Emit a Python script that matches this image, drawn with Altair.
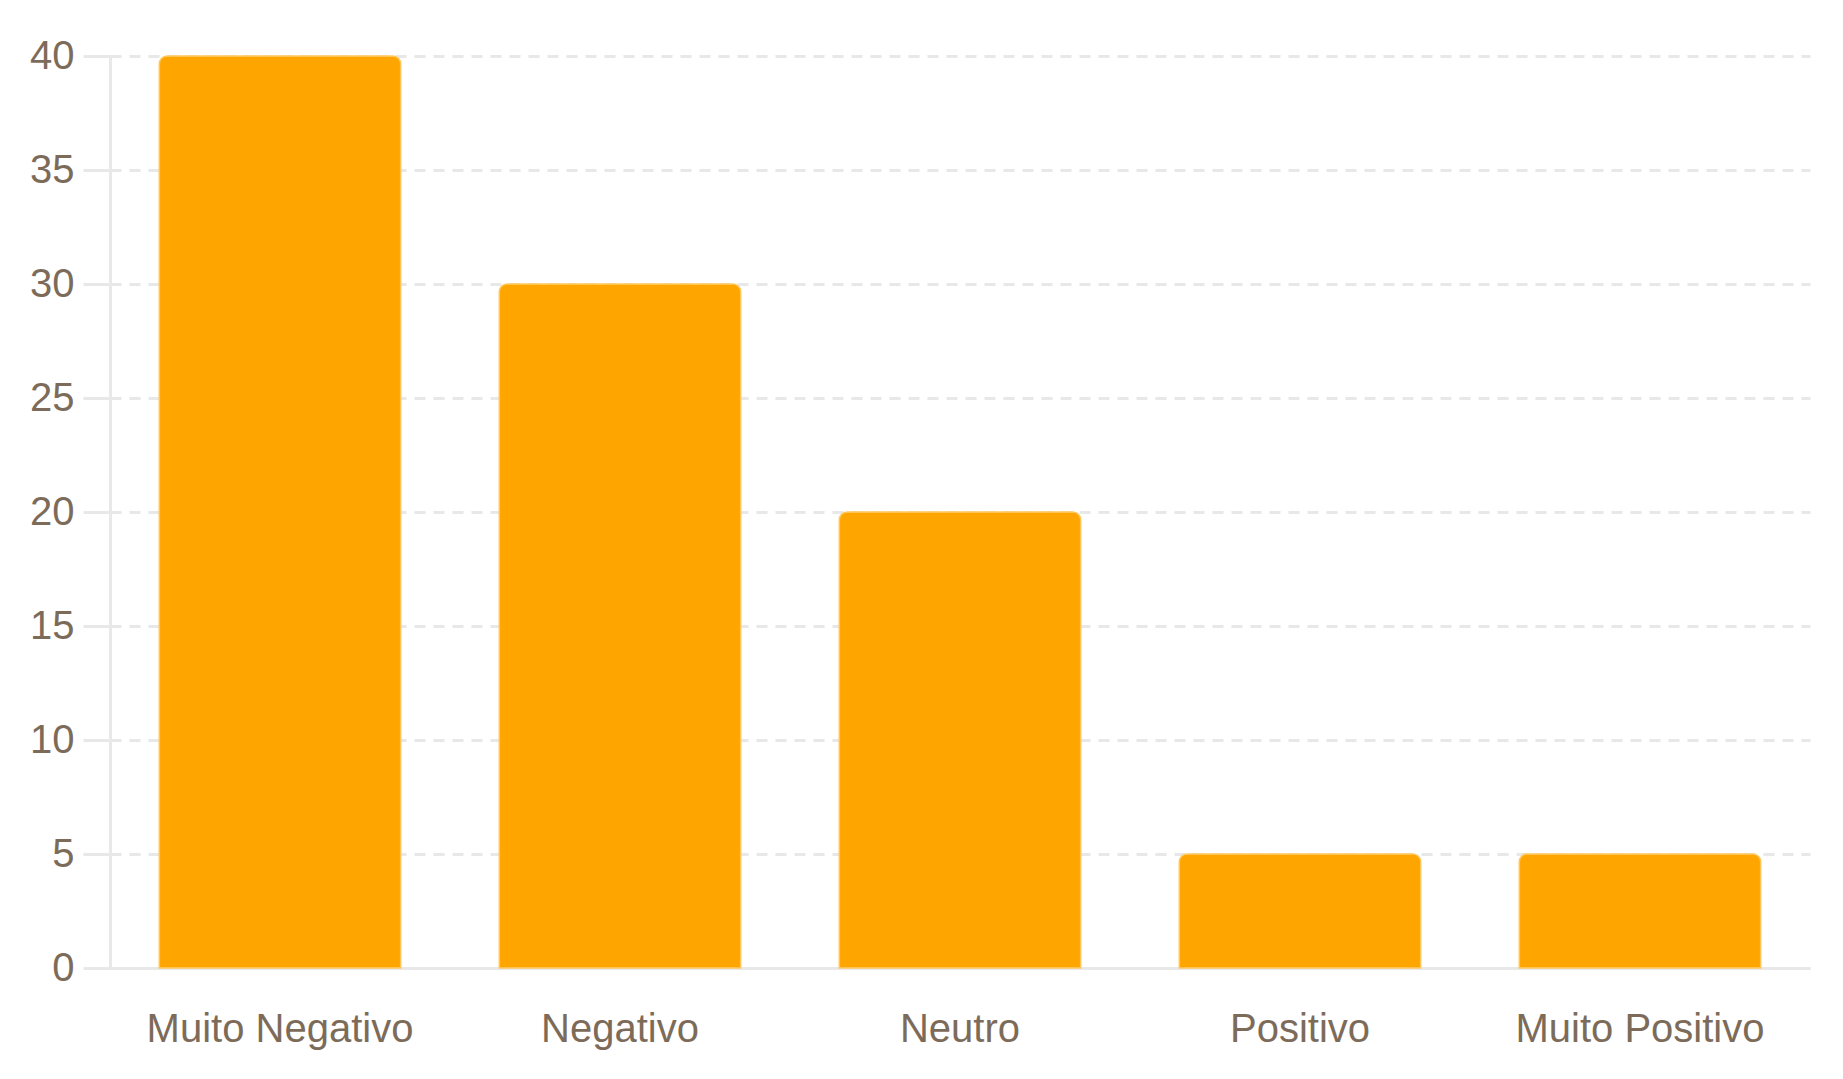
import altair as alt
import pandas as pd

categories = ["Muito Negativo", "Negativo", "Neutro", "Positivo", "Muito Positivo"]
values = [40, 30, 20, 5, 5]
y_ticks = [0, 5, 10, 15, 20, 25, 30, 35, 40]

df = pd.DataFrame({"categoria": categories, "valor": values})

TEXT = "#7d6b5a"
GRID = "#e8e8e8"

chart = alt.Chart(df).mark_bar(
    color="#FFA500",
    cornerRadiusTopLeft=8,
    cornerRadiusTopRight=8,
    stroke="#FFC65A",
    strokeWidth=1.5,
).encode(
    x=alt.X(
        "categoria:N",
        sort=categories,
        title=None,
        scale=alt.Scale(paddingInner=0.29, paddingOuter=0.145),
        axis=alt.Axis(
            labelAngle=0,
            ticks=False,
            labelPadding=41,
            labelLimit=0,
            labelFont="Liberation Sans",
            labelFontSize=40,
            labelColor=TEXT,
            domainColor=GRID,
            domainWidth=3,
            grid=False,
        ),
    ),
    y=alt.Y(
        "valor:Q",
        title=None,
        scale=alt.Scale(domain=[0, 40], nice=False),
        axis=alt.Axis(
            values=y_ticks,
            labelFont="Liberation Sans",
            labelFontSize=40,
            labelColor=TEXT,
            labelPadding=9,
            tickSize=27,
            tickColor=GRID,
            tickWidth=3,
            domainColor=GRID,
            domainWidth=3,
            grid=True,
            gridColor=GRID,
            gridWidth=3,
            gridDash=[11, 8],
        ),
    ),
).properties(
    width=1700,
    height=912,
    autosize=alt.AutoSizeParams(type="none"),
    padding={"left": 102, "top": 48, "right": 25, "bottom": 100},
).configure_view(stroke=None)

chart.save("out.html", embed_options={"renderer": "svg", "actions": False})
